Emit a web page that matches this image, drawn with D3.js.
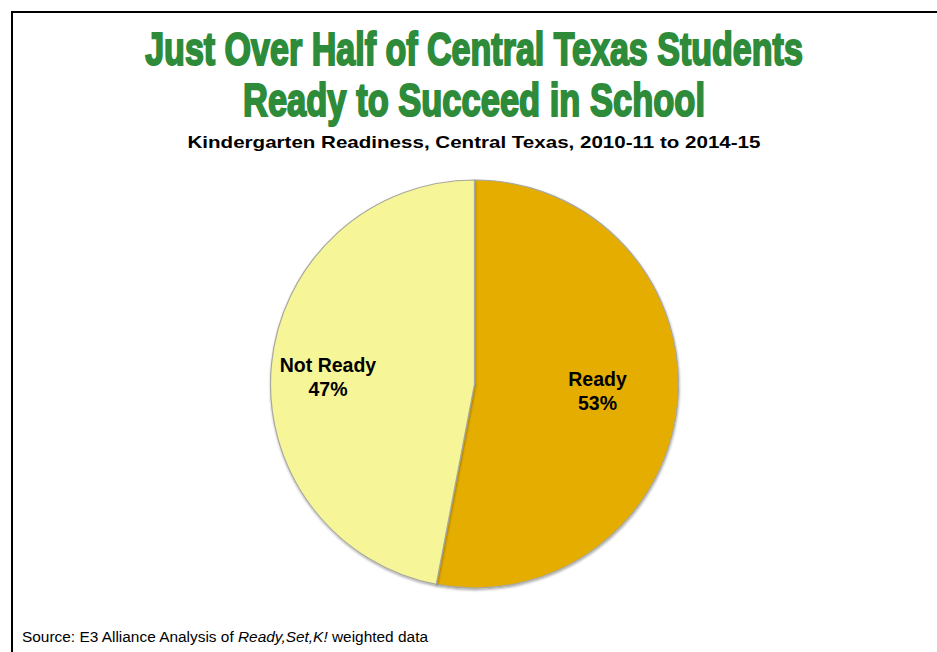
<!DOCTYPE html>
<html>
<head>
<meta charset="utf-8">
<script src="https://cdn.jsdelivr.net/npm/d3@7"></script>
<style>
  body { margin: 0; background: #fff; }
  svg { display: block; }
</style>
</head>
<body>
<script>
// chart values
let categories = ["Ready", "Not Ready"]
let shares = [53, 47]
let sliceColors = ["#e5ad00", "#f6f597"]
let titleLines = ["Just Over Half of Central Texas Students", "Ready to Succeed in School"]
let subtitle = "Kindergarten Readiness, Central Texas, 2010-11 to 2014-15"

let width = 937
let height = 652
let cx = 474.5
let cy = 384
let radius = 204

let svg = d3.select("body")
            .append("svg")
            .attr("width", width)
            .attr("height", height)

// frame (runs off the right and bottom edges)
svg.append("rect")
    .attr("x", 12)
    .attr("y", 12)
    .attr("width", 960)
    .attr("height", 700)
    .attr("fill", "none")
    .attr("stroke", "#000")
    .attr("stroke-width", 2)

// title: heavy bold squeezed sideways to the width of the original condensed face
let titleWidths = [658, 462]

svg.selectAll(".title")
    .data(titleLines)
    .enter()
    .append("g")
    .attr("class", "title")
    .append("text")
    .attr("text-anchor", "middle")
    .style("font-family", "'Liberation Sans', Arial, sans-serif")
    .style("font-weight", "bold")
    .style("font-size", "45px")
    .attr("fill", "#2e8b3a")
    .attr("stroke", "#2e8b3a")
    .attr("stroke-width", 2)
    .text(d => d)

svg.selectAll(".title")
    .attr("transform", function(d, i) {
        let w = d3.select(this).select("text").node().getComputedTextLength()
        return "translate(474," + (65 + i * 51) + ") scale(" + (titleWidths[i] / w) + ",1.04)"
    })

svg.append("text")
    .attr("x", 474)
    .attr("y", 148)
    .attr("text-anchor", "middle")
    .attr("textLength", 573)
    .attr("lengthAdjust", "spacingAndGlyphs")
    .style("font-family", "'Liberation Sans', Arial, sans-serif")
    .style("font-weight", "bold")
    .style("font-size", "17px")
    .attr("fill", "#000")
    .text(subtitle)

// pie
let pie = d3.pie().sort(null).value(d => d)
let arc = d3.arc().innerRadius(0).outerRadius(radius)
let arcs = pie(shares)

let defs = svg.append("defs")
let shadow = defs.append("filter").attr("id", "shadow")
                 .attr("x", "-10%").attr("y", "-10%")
                 .attr("width", "120%").attr("height", "120%")
shadow.append("feDropShadow")
      .attr("dx", 0.5).attr("dy", 1.5)
      .attr("stdDeviation", 1.2)
      .attr("flood-color", "#000")
      .attr("flood-opacity", 0.35)

let g = svg.append("g")
           .attr("transform", "translate(" + cx + "," + cy + ")")

g.selectAll("path")
    .data(arcs)
    .enter()
    .append("path")
    .attr("d", arc)
    .attr("fill", (d, i) => sliceColors[i])
    .attr("stroke", "#a8a8a0")
    .attr("stroke-width", 1.2)
    .attr("filter", "url(#shadow)")

// labels
let labelPos = [[123, 2], [-146.5, -12]]

let labels = g.selectAll(".label")
    .data(arcs)
    .enter()
    .append("text")
    .attr("class", "label")
    .attr("text-anchor", "middle")
    .attr("transform", (d, i) => "translate(" + labelPos[i][0] + "," + labelPos[i][1] + ")")
    .style("font-family", "'Liberation Sans', Arial, sans-serif")
    .style("font-weight", "bold")
    .style("font-size", "19.5px")
    .attr("fill", "#000")

labels.append("tspan")
    .attr("x", 0)
    .attr("y", 0)
    .text((d, i) => categories[i])

labels.append("tspan")
    .attr("x", 0)
    .attr("y", 24)
    .text((d, i) => shares[i] + "%")

// source note
let source = svg.append("text")
    .attr("x", 22)
    .attr("y", 642)
    .attr("textLength", 406)
    .attr("lengthAdjust", "spacingAndGlyphs")
    .style("font-family", "'Liberation Sans', Arial, sans-serif")
    .style("font-size", "14px")
    .attr("fill", "#000")

source.append("tspan").text("Source: E3 Alliance Analysis of ")
source.append("tspan").style("font-style", "italic").text("Ready,Set,K!")
source.append("tspan").text(" weighted data")
</script>
</body>
</html>
